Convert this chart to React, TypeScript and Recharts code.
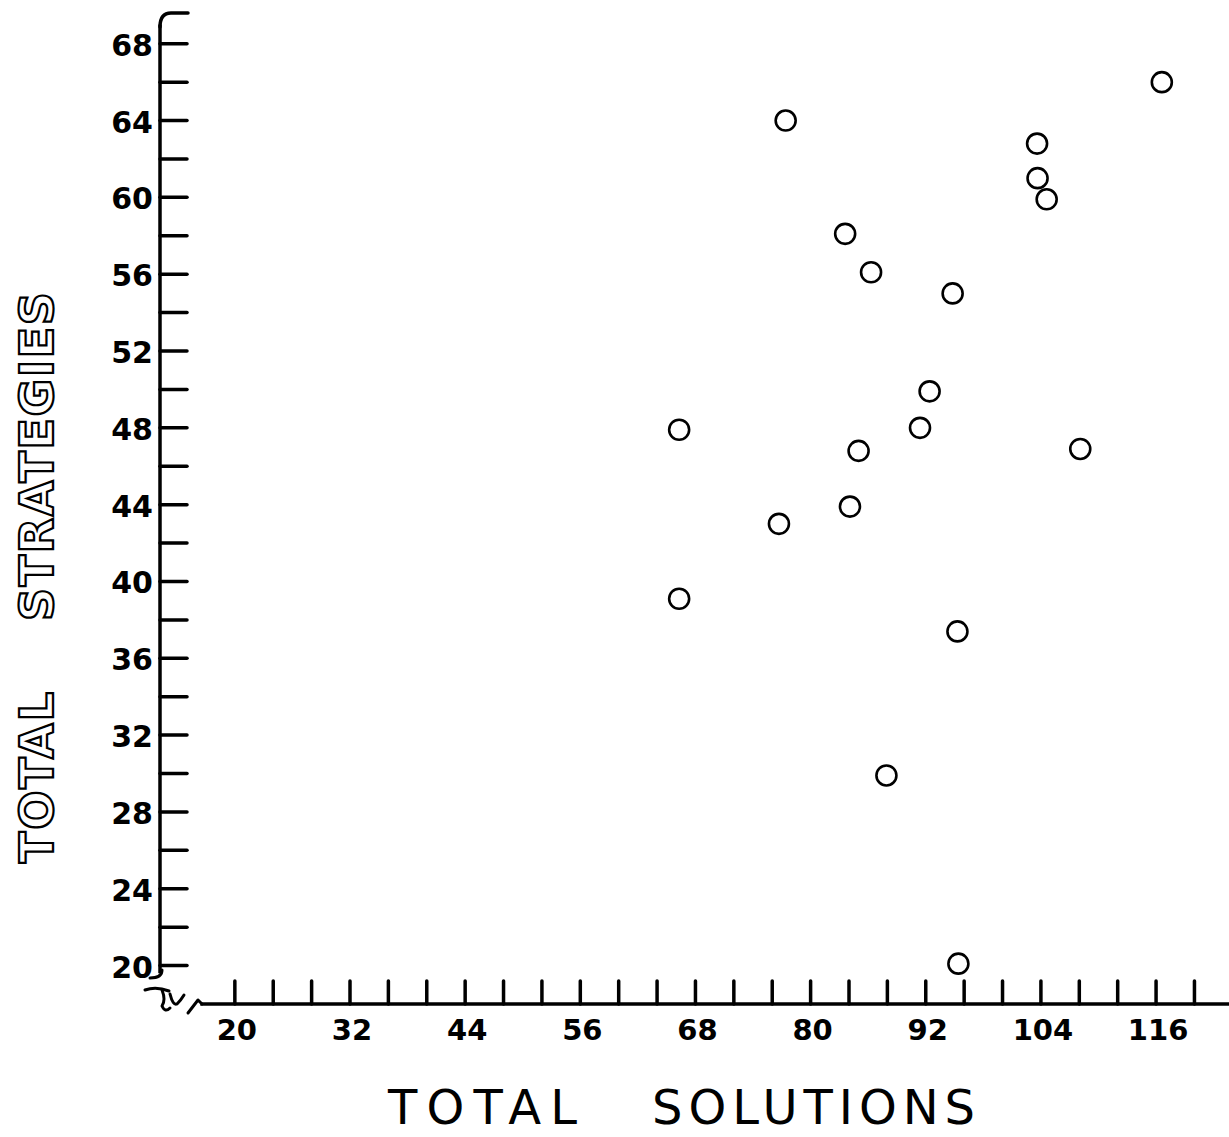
import React from 'react';
import { ScatterChart, Scatter, XAxis, YAxis, ReferenceLine, ReferenceDot } from 'recharts';

// Data
const totalSolutions = [77.4, 116.6, 103.6, 103.65, 104.6, 83.6, 86.3, 94.8, 92.4, 66.3, 91.4, 85.0, 108.1, 84.1, 76.7, 66.3, 95.3, 87.9, 95.4];
const totalStrategies = [64.0, 66.0, 62.8, 61.0, 59.9, 58.1, 56.1, 55.0, 49.9, 47.9, 48.0, 46.8, 46.9, 43.9, 43.0, 39.1, 37.4, 29.9, 20.1];

const xTicks = [20, 24, 28, 32, 36, 40, 44, 48, 52, 56, 60, 64, 68, 72, 76, 80, 84, 88, 92, 96, 100, 104, 108, 112, 116, 120];
const xLabels = [20, 32, 44, 56, 68, 80, 92, 104, 116];
const yTicks = [20, 22, 24, 26, 28, 30, 32, 34, 36, 38, 40, 42, 44, 46, 48, 50, 52, 54, 56, 58, 60, 62, 64, 66, 68, 69.6];
const yLabels = [20, 24, 28, 32, 36, 40, 44, 48, 52, 56, 60, 64, 68];

const xDomain: [number, number] = [12.2, 123.6];
const yDomain: [number, number] = [18, 69.6];
const xAxisStart = 16.4;
const yAxisBottom = 19.6;

const points = totalSolutions.map((s, i) => ({ x: s, y: totalStrategies[i] }));

const INK = '#000';

const YTick = (props: any) => {
  const { x, y, payload } = props;
  const v = payload.value;
  if (v > 69) {
    return (
      <path
        d={`M ${x} ${y + 14} Q ${x} ${y} ${x + 11} ${y} L ${x + 28} ${y}`}
        stroke={INK}
        strokeWidth={3.5}
        fill="none"
        strokeLinecap="round"
      />
    );
  }
  return (
    <g>
      <line x1={x} y1={y} x2={x + 27} y2={y} stroke={INK} strokeWidth={3.5} strokeLinecap="round" />
      {yLabels.includes(v) && (
        <text
          x={x - 7}
          y={y + 12}
          textAnchor="end"
          fontFamily="DejaVu Sans"
          fontWeight="bold"
          fontSize={30}
          fill={INK}
        >
          {v}
        </text>
      )}
    </g>
  );
};

const XTick = (props: any) => {
  const { x, y, payload } = props;
  const v = payload.value;
  return (
    <g>
      <line x1={x} y1={y} x2={x} y2={y - 23} stroke={INK} strokeWidth={3.5} strokeLinecap="round" />
      {xLabels.includes(v) && (
        <text
          x={x + 2}
          y={y + 36}
          textAnchor="middle"
          fontFamily="DejaVu Sans"
          fontWeight="bold"
          fontSize={29}
          fill={INK}
        >
          {v}
        </text>
      )}
    </g>
  );
};

const BreakMark = (props: any) => {
  const { cx, cy } = props;
  const p = (dx: number, dy: number) => `${cx + dx} ${cy + dy}`;
  return (
    <g fill="none" stroke={INK} strokeWidth={3} strokeLinecap="round" strokeLinejoin="round">
      <path d={`M ${p(2, -34)} Q ${p(2, -26)} ${p(-10, -26)}`} />
      <path d={`M ${p(-15, -14)} Q ${p(-4, -18)} ${p(9, -13)}`} />
      <path d={`M ${p(2, -14)} Q ${p(6, -4)} ${p(2, 2)} Q ${p(5, 9)} ${p(10, 4)}`} />
      <path d={`M ${p(10, -10)} Q ${p(13, 2)} ${p(17, 0)} Q ${p(21, -4)} ${p(24, -9)}`} />
      <path d={`M ${p(28, 9)} L ${p(38, -4)} Q ${p(40, -2)} ${p(42, 0)}`} />
    </g>
  );
};

const Ring = (props: any) => {
  const { cx, cy } = props;
  return <circle cx={cx} cy={cy} r={10} fill="#fff" stroke={INK} strokeWidth={2.6} />;
};

export default function App() {
  return (
    <div style={{ position: 'absolute', left: 0, top: 0, width: 1229, height: 1137, background: '#fff' }}>
      <ScatterChart width={1229} height={1137} margin={{ top: 13, right: 0, bottom: 0, left: 0 }}>
        <XAxis
          type="number"
          dataKey="x"
          domain={xDomain}
          ticks={xTicks}
          interval={0}
          allowDataOverflow
          height={133}
          axisLine={false}
          tickLine={false}
          tickSize={0}
          tickMargin={0}
          tick={<XTick />}
        />
        <YAxis
          type="number"
          dataKey="y"
          domain={yDomain}
          ticks={yTicks}
          interval={0}
          allowDataOverflow
          width={160}
          axisLine={false}
          tickLine={false}
          tickSize={0}
          tickMargin={0}
          tick={<YTick />}
        />
        <ReferenceLine
          segment={[{ x: xDomain[0], y: yAxisBottom }, { x: xDomain[0], y: 69.0 }]}
          stroke={INK}
          strokeWidth={3.5}
          ifOverflow="visible"
        />
        <ReferenceLine
          segment={[{ x: xAxisStart, y: yDomain[0] }, { x: xDomain[1], y: yDomain[0] }]}
          stroke={INK}
          strokeWidth={3.5}
          ifOverflow="visible"
        />
        <ReferenceDot x={xDomain[0]} y={yDomain[0]} ifOverflow="visible" shape={<BreakMark />} />
        <Scatter data={points} isAnimationActive={false} shape={<Ring />} />
      </ScatterChart>
      <svg
        width={1229}
        height={1137}
        style={{ position: 'absolute', left: 0, top: 0, pointerEvents: 'none' }}
      >
        <text x={388} y={1124} fontFamily="DejaVu Sans" fontSize={48} fill={INK} textLength={189} lengthAdjust="spacing">
          TOTAL
        </text>
        <text x={652} y={1124} fontFamily="DejaVu Sans" fontSize={48} fill={INK} textLength={323} lengthAdjust="spacing">
          SOLUTIONS
        </text>
        <g transform="translate(53, 863) rotate(-90)">
          <text x={0} y={0} fontFamily="DejaVu Sans" fontWeight="bold" fontSize={46} fill="#fff" stroke={INK} strokeWidth={2.2} textLength={171} lengthAdjust="spacing">
            TOTAL
          </text>
        </g>
        <g transform="translate(53, 621) rotate(-90)">
          <text x={0} y={0} fontFamily="DejaVu Sans" fontWeight="bold" fontSize={46} fill="#fff" stroke={INK} strokeWidth={2.2} textLength={329} lengthAdjust="spacing">
            STRATEGIES
          </text>
        </g>
      </svg>
    </div>
  );
}
